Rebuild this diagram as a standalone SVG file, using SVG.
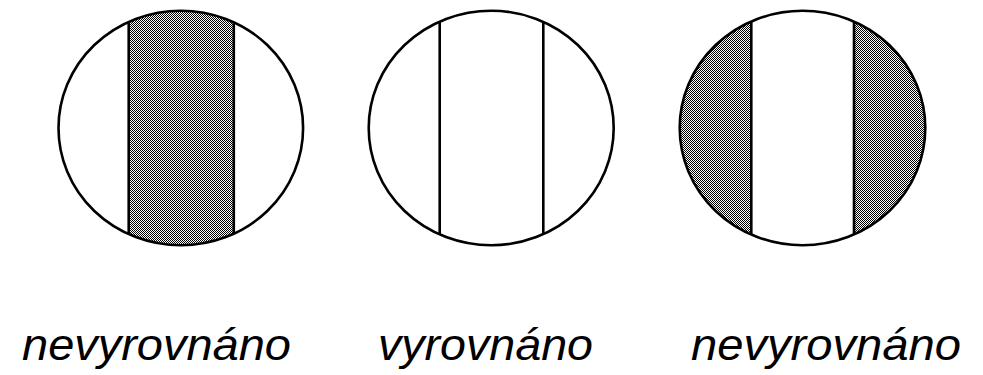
<svg xmlns="http://www.w3.org/2000/svg" width="983" height="375" viewBox="0 0 983 375">
  <defs>
    <pattern id="dots" patternUnits="userSpaceOnUse" x="0" y="0" width="2" height="2">
      <rect x="0" y="0" width="2" height="2" fill="#fff"/>
      <rect x="0" y="0" width="1" height="1" fill="#000"/>
      <rect x="1" y="1" width="1" height="1" fill="#000"/>
    </pattern>
    <clipPath id="c1"><ellipse cx="180.8" cy="128" rx="122.3" ry="117.3"/></clipPath>
    <clipPath id="c3"><ellipse cx="802.5" cy="128" rx="122.8" ry="117.3"/></clipPath>
  </defs>
  <style>
    .outline { fill: none; stroke: #000; stroke-width: 2.6; }
    .edge { stroke: #000; stroke-width: 2.6; }
    .label { font-family: "Liberation Sans", Arial, sans-serif; font-style: italic; font-size: 44px; fill: #000; }
  </style>
  <rect width="983" height="375" fill="#fff"/>

  <g id="circle-nevyrovnano-1">
    <ellipse cx="180.8" cy="128" rx="122.3" ry="117.3" fill="#fff"/>
    <rect x="128.7" y="0" width="105.1" height="260" fill="url(#dots)" clip-path="url(#c1)" shape-rendering="crispEdges"/>
    <g clip-path="url(#c1)">
      <line class="edge" x1="128.7" y1="0" x2="128.7" y2="260"/>
      <line class="edge" x1="233.8" y1="0" x2="233.8" y2="260"/>
    </g>
    <ellipse class="outline" cx="180.8" cy="128" rx="122.3" ry="117.3"/>
  </g>

  <g id="circle-vyrovnano">
    <clipPath id="c2"><ellipse cx="491.2" cy="128" rx="122.5" ry="117.3"/></clipPath>
    <ellipse cx="491.2" cy="128" rx="122.5" ry="117.3" fill="#fff"/>
    <g clip-path="url(#c2)">
      <line class="edge" x1="439.7" y1="0" x2="439.7" y2="260"/>
      <line class="edge" x1="543.3" y1="0" x2="543.3" y2="260"/>
    </g>
    <ellipse class="outline" cx="491.2" cy="128" rx="122.5" ry="117.3"/>
  </g>

  <g id="circle-nevyrovnano-2">
    <ellipse cx="802.5" cy="128" rx="122.8" ry="117.3" fill="url(#dots)" shape-rendering="crispEdges"/>
    <rect x="751.3" y="0" width="102.7" height="260" fill="#fff" clip-path="url(#c3)"/>
    <g clip-path="url(#c3)">
      <line class="edge" x1="751.3" y1="0" x2="751.3" y2="260"/>
      <line class="edge" x1="854" y1="0" x2="854" y2="260"/>
    </g>
    <ellipse class="outline" cx="802.5" cy="128" rx="122.8" ry="117.3"/>
  </g>

  <g id="labels">
    <text class="label" x="22" y="360" textLength="269" lengthAdjust="spacingAndGlyphs">nevyrovnáno</text>
    <text class="label" x="378" y="360" textLength="215" lengthAdjust="spacingAndGlyphs">vyrovnáno</text>
    <text class="label" x="691" y="360" textLength="270" lengthAdjust="spacingAndGlyphs">nevyrovnáno</text>
  </g>
</svg>
